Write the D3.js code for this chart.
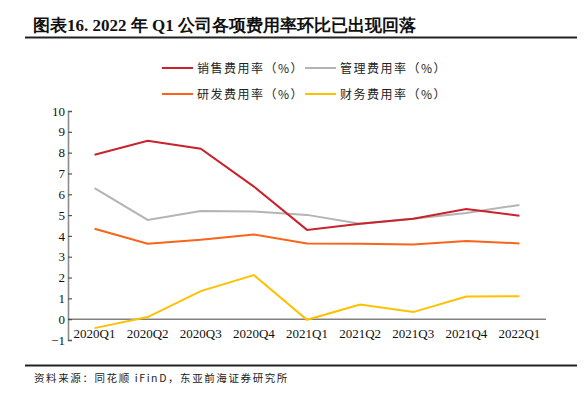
<!DOCTYPE html>
<html>
<head>
<meta charset="utf-8">
<script src="https://cdn.jsdelivr.net/npm/d3@7"></script>
<style>
  html, body { margin: 0; padding: 0; background: #fff; }
  svg { display: block; }
</style>
</head>
<body>
<div id="chart"></div>
<script>
// quarters on the x axis
const quarters = ["2020Q1", "2020Q2", "2020Q3", "2020Q4", "2021Q1", "2021Q2", "2021Q3", "2021Q4", "2022Q1"];

// expense ratios (%)
const salesRate = [7.90, 8.57, 8.19, 6.37, 4.29, 4.58, 4.82, 5.29, 4.97];
const adminRate = [6.30, 4.77, 5.20, 5.17, 5.01, 4.58, 4.82, 5.10, 5.49];
const rdRate = [4.34, 3.62, 3.81, 4.07, 3.64, 3.62, 3.59, 3.76, 3.64];
const financeRate = [-0.43, 0.10, 1.35, 2.12, -0.03, 0.70, 0.34, 1.09, 1.10];

const seriesNames = ["销售费用率（%）", "管理费用率（%）", "研发费用率（%）", "财务费用率（%）"];
const yTicks = [-1, 0, 1, 2, 3, 4, 5, 6, 7, 8, 9, 10];

const titleText = "图表16. 2022 年 Q1 公司各项费用率环比已出现回落";
const sourceText = "资料来源：同花顺 iFinD，东亚前海证券研究所";

const width = 588, height = 393;
const margin = { top: 111, right: 42, bottom: 53, left: 68 };
const colors = ["#C8232C", "#B4B4B4", "#F7651B", "#FFC000"];
const cjk = "'Noto Sans CJK SC', sans-serif";
const serif = "'Liberation Serif', 'Times New Roman', serif";

const svg = d3.select("#chart")
  .append("svg")
  .attr("width", width)
  .attr("height", height);

// title + rule
svg.append("text")
  .attr("x", 33).attr("y", 31)
  .attr("font-family", serif)
  .attr("font-weight", "bold")
  .attr("font-size", 17)
  .attr("fill", "#111")
  .text(titleText);
svg.append("line")
  .attr("x1", 25).attr("x2", 577)
  .attr("y1", 37.5).attr("y2", 37.5)
  .attr("stroke", "#222").attr("stroke-width", 2);

// footer rule + source
svg.append("line")
  .attr("x1", 25).attr("x2", 577)
  .attr("y1", 365.5).attr("y2", 365.5)
  .attr("stroke", "#222").attr("stroke-width", 2);
svg.append("text")
  .attr("x", 34).attr("y", 381.5)
  .attr("font-family", cjk)
  .attr("font-size", 10.5)
  .attr("fill", "#222")
  .attr("letter-spacing", 1.6)
  .text(sourceText);

const contentWidth = width - margin.left - margin.right;
const plotHeight = 229; // from 10 down to -1

const g = svg.append("g")
  .attr("transform", "translate(" + margin.left + "," + margin.top + ")");

const x = d3.scaleBand().domain(quarters).range([0, contentWidth]).padding(0);
const y = d3.scaleLinear().domain([-1, 10]).range([plotHeight, 0]);

// y axis: gray line, short inward ticks
const yAxis = g.append("g")
  .call(d3.axisLeft(y).tickValues(yTicks).tickSize(-4).tickPadding(3).tickFormat(d3.format("d")));
yAxis.select(".domain").attr("stroke", "#8c8c8c").attr("stroke-width", 1.6);
yAxis.selectAll(".tick line").attr("stroke", "#555").attr("stroke-width", 1.2);
yAxis.selectAll(".tick text")
  .attr("font-family", serif).attr("font-size", 13).attr("fill", "#111");

// zero line
g.append("line")
  .attr("x1", 0).attr("x2", contentWidth)
  .attr("y1", y(0)).attr("y2", y(0))
  .attr("stroke", "#444").attr("stroke-width", 1);

// x labels sit under the zero line
g.selectAll(".xlab")
  .data(quarters)
  .enter().append("text")
  .attr("class", "xlab")
  .attr("x", d => x(d) + x.bandwidth() / 2)
  .attr("y", y(0) + 19)
  .attr("text-anchor", "middle")
  .attr("font-family", serif).attr("font-size", 13).attr("fill", "#111")
  .text(d => d);

// lines
const allSeries = [salesRate, adminRate, rdRate, financeRate];
const line = d3.line()
  .x((d, i) => x(quarters[i]) + x.bandwidth() / 2)
  .y(d => y(d));

// draw order: grey first so red sits on top where they overlap
[1, 2, 3, 0].forEach(k => {
  g.append("path")
    .datum(allSeries[k])
    .attr("d", line)
    .attr("fill", "none")
    .attr("stroke", colors[k])
    .attr("stroke-width", 2);
});

// legend (2 x 2)
const legendPos = [[162, 68], [305, 68], [162, 94], [305, 94]];
seriesNames.forEach((name, k) => {
  const [lx, ly] = legendPos[k];
  svg.append("line")
    .attr("x1", lx).attr("x2", lx + 31)
    .attr("y1", ly).attr("y2", ly)
    .attr("stroke", colors[k]).attr("stroke-width", 2);
  svg.append("text")
    .attr("x", lx + 35).attr("y", ly + 4.5)
    .attr("font-family", cjk)
    .attr("font-size", 12)
    .attr("letter-spacing", 1.5)
    .attr("fill", "#222")
    .text(name);
});
</script>
</body>
</html>
